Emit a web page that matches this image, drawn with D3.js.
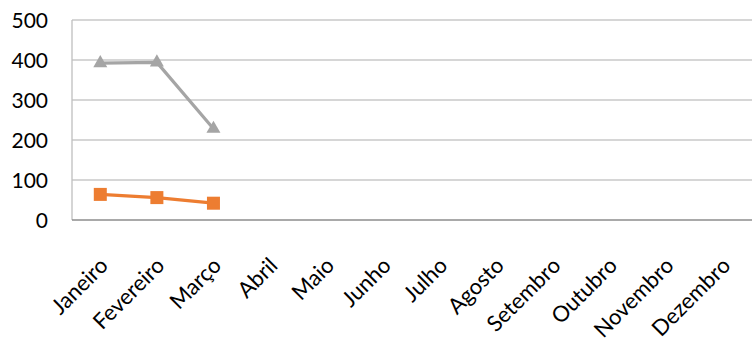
<!DOCTYPE html>
<html><head><meta charset="utf-8">
<script src="https://cdn.jsdelivr.net/npm/d3@7"></script>
<style>body{margin:0;background:#fff;} svg{display:block;}</style>
</head><body>
<svg id="c" width="753" height="341"></svg>
<script>
const months = ["Janeiro","Fevereiro","Março","Abril","Maio","Junho","Julho","Agosto","Setembro","Outubro","Novembro","Dezembro"];
const grayValues = [392, 394, 228];
const orangeValues = [64, 56, 42];
const yTicks = [0, 100, 200, 300, 400, 500];

(function(){
const svg = d3.select("#c");
const pL = 72, pR = 751, pT = 20, pB = 220;
const x = d3.scaleBand().domain(months).range([pL, pR]);
const y = d3.scaleLinear().domain([0, 500]).range([pB, pT]);
const font = "Lato, 'Open Sans', sans-serif";

svg.append("g").selectAll("line").data(yTicks.filter(d => d > 0)).join("line")
  .attr("x1", pL).attr("x2", 752).attr("y1", d => y(d)).attr("y2", d => y(d))
  .attr("stroke", "#c8c8c8").attr("stroke-width", 1.3);

svg.append("line").attr("x1", pL).attr("x2", pL).attr("y1", y(500)).attr("y2", y(0))
  .attr("stroke", "#bfbfbf").attr("stroke-width", 1.3);
svg.append("line").attr("x1", pL).attr("x2", 752).attr("y1", y(0)).attr("y2", y(0))
  .attr("stroke", "#8c8c8c").attr("stroke-width", 1.3);

svg.append("g").selectAll("text").data(yTicks).join("text")
  .attr("x", 48).attr("y", d => y(d)).attr("dy", "0.36em")
  .attr("text-anchor", "end").attr("font-family", font).attr("font-size", 21)
  .attr("fill", "#000").text(d => d);

svg.append("g").selectAll("text").data(months).join("text")
  .attr("transform", d => `translate(${x(d) + x.bandwidth()/2 + 9},${267}) rotate(-45)`)
  .attr("text-anchor", "end")
  .attr("font-family", font).attr("font-size", 22).attr("fill", "#000").text(d => d);

const cx = (d, i) => x(months[i]) + x.bandwidth()/2;
const line = d3.line().x((d, i) => cx(d, i)).y(d => y(d));

svg.append("path").datum(grayValues).attr("d", line).attr("fill", "none")
  .attr("stroke", "#A5A5A5").attr("stroke-width", 3.2).attr("stroke-linejoin", "round");
svg.append("path").datum(orangeValues).attr("d", line).attr("fill", "none")
  .attr("stroke", "#ED7D31").attr("stroke-width", 3.2).attr("stroke-linejoin", "round");

const tri = d3.symbol().type(d3.symbolTriangle).size(85);
svg.append("g").selectAll("path").data(grayValues).join("path")
  .attr("d", tri).attr("transform", (d, i) => `translate(${cx(d, i)},${y(d)})`)
  .attr("fill", "#A5A5A5");
svg.append("g").selectAll("rect").data(orangeValues).join("rect")
  .attr("x", (d, i) => cx(d, i) - 6.5).attr("y", d => y(d) - 6.5)
  .attr("width", 13).attr("height", 13).attr("fill", "#ED7D31");
})();
</script>
</body></html>
